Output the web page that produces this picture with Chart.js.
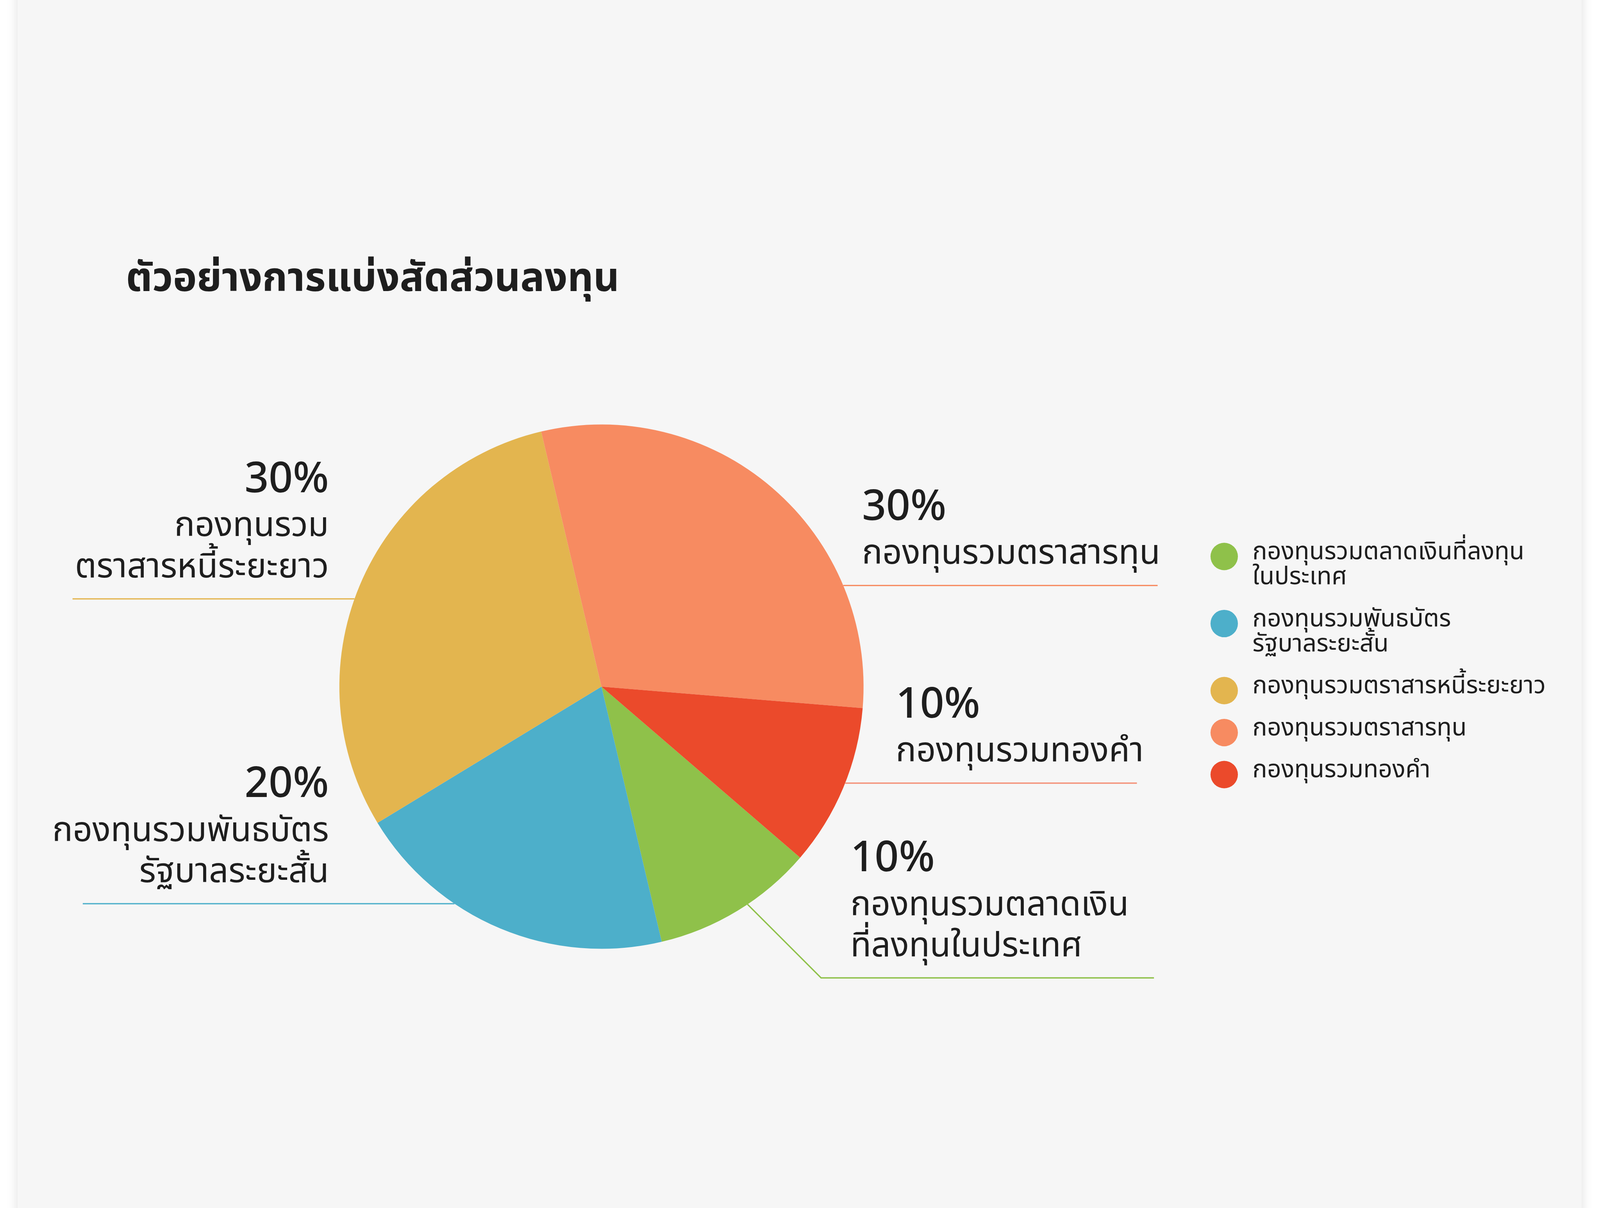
<!DOCTYPE html>
<html lang="th">
<head>
<meta charset="utf-8">
<title>ตัวอย่างการแบ่งสัดส่วนลงทุน</title>
<script src="https://cdn.jsdelivr.net/npm/chart.js@4.4.1/dist/chart.umd.min.js"></script>
<style>
  html, body { margin: 0; padding: 0; background: #ffffff; overflow: hidden; }
  .card {
    position: absolute; top: -60px; bottom: -60px;
    background: #f6f6f6;
    box-shadow: 0 0 28px rgba(0, 0, 0, 0.13);
  }
  #pie { position: absolute; left: 0; top: 0; }
</style>
</head>
<body>
<div class="card" id="card"></div>
<canvas id="pie"></canvas>
<script>
const chartTitle = 'ตัวอย่างการแบ่งสัดส่วนลงทุน';

// slices, clockwise from the green one
const categories = [
  'กองทุนรวมตลาดเงินที่ลงทุนในประเทศ',
  'กองทุนรวมพันธบัตรรัฐบาลระยะสั้น',
  'กองทุนรวมตราสารหนี้ระยะยาว',
  'กองทุนรวมตราสารทุน',
  'กองทุนรวมทองคำ'
];
const shares = [10, 20, 30, 30, 10];

// the same names, broken as in the picture
const legendLines = [
  ['กองทุนรวมตลาดเงินที่ลงทุน', 'ในประเทศ'],
  ['กองทุนรวมพันธบัตร', 'รัฐบาลระยะสั้น'],
  ['กองทุนรวมตราสารหนี้ระยะยาว'],
  ['กองทุนรวมตราสารทุน'],
  ['กองทุนรวมทองคำ']
];
const calloutLines = [
  ['กองทุนรวมตลาดเงิน', 'ที่ลงทุนในประเทศ'],
  ['กองทุนรวมพันธบัตร', 'รัฐบาลระยะสั้น'],
  ['กองทุนรวม', 'ตราสารหนี้ระยะยาว'],
  ['กองทุนรวมตราสารทุน'],
  ['กองทุนรวมทองคำ']
];

const sliceColors = ['#8fc14a', '#4dafca', '#e3b54f', '#f78b61', '#eb4a2b'];
const lineColors = ['#8fc14a', '#4dafca', '#e3b54f', '#f78b61', '#f4937a'];

const FONT = '"Noto Sans Thai", "Noto Sans", sans-serif';

// the slide is laid out on a 5488 x 3092 board, then fitted to the window
const BOARD_W = 5488, BOARD_H = 3092;
const W = window.innerWidth, H = window.innerHeight;
const s = Math.min(W / BOARD_W, H / BOARD_H);
const offX = (W - BOARD_W * s) / 2, offY = (H - BOARD_H * s) / 2;

// callout placement, in units of the pie radius from its centre
const calloutLayout = [
  { side: 'right', textDx: 0.950, lineDy: 1.111, endDx: 2.108, elbowDx: 0.838 },
  { side: 'left', textDx: -1.040, lineDy: 0.828, endDx: -1.979 },
  { side: 'left', textDx: -1.040, lineDy: -0.335, endDx: -2.018 },
  { side: 'right', textDx: 0.994, lineDy: -0.386, endDx: 2.122 },
  { side: 'right', textDx: 1.123, lineDy: 0.368, endDx: 2.043 }
];

const card = document.getElementById('card');
card.style.left = (offX + 60 * s) + 'px';
card.style.right = (offX + 63 * s) + 'px';

const canvas = document.getElementById('pie');
canvas.width = W;
canvas.height = H;
canvas.style.width = W + 'px';
canvas.style.height = H + 'px';

const decorPlugin = {
  id: 'decor',
  afterDraw(chart) {
    const ctx = chart.ctx;
    const arc = chart.getDatasetMeta(0).data[0];
    // back to board units
    const cx = (arc.x - offX) / s, cy = (arc.y - offY) / s, r = arc.outerRadius / s;
    const values = chart.data.datasets[0].data;
    const total = values.reduce((a, b) => a + b, 0);

    ctx.save();
    ctx.translate(offX, offY);
    ctx.scale(s, s);

    // title
    ctx.fillStyle = '#1e1e1e';
    ctx.textAlign = 'left';
    ctx.textBaseline = 'alphabetic';
    ctx.font = '700 138px ' + FONT;
    ctx.fillText(chartTitle, 432, 473);

    // callouts with leader lines
    calloutLayout.forEach((lay, i) => {
      const lineY = cy + lay.lineDy * r;
      const endX = cx + lay.endDx * r;
      ctx.strokeStyle = lineColors[i];
      ctx.lineWidth = 4.5;
      ctx.beginPath();
      if (lay.elbowDx !== undefined) {
        const ex = cx + lay.elbowDx * r;
        const a = ex - cx, b = lineY - cy;
        const t = ((a + b) - Math.sqrt((a + b) * (a + b) - 2 * (a * a + b * b - r * r))) / 2;
        ctx.moveTo(ex - t, lineY - t);
        ctx.lineTo(ex, lineY);
        ctx.lineTo(endX, lineY);
      } else {
        const half = Math.sqrt(Math.max(0, r * r - (lineY - cy) * (lineY - cy)));
        ctx.moveTo(cx + Math.sign(lay.endDx) * half, lineY);
        ctx.lineTo(endX, lineY);
      }
      ctx.stroke();

      const tx = cx + lay.textDx * r;
      ctx.textAlign = lay.side === 'left' ? 'right' : 'left';
      ctx.fillStyle = '#1e1e1e';
      const lines = calloutLines[i];
      let y = lineY - 74;
      ctx.font = '400 117px ' + FONT;
      for (let k = lines.length - 1; k >= 0; k--) {
        ctx.fillText(lines[k], tx, y);
        if (k > 0) y -= 141;
      }
      ctx.font = '500 145px ' + FONT;
      ctx.fillText(Math.round(values[i] / total * 100) + '%', tx, y - 151);
    });

    // legend
    let ly = 1375;
    chart.data.labels.forEach((name, i) => {
      ctx.fillStyle = sliceColors[i];
      ctx.beginPath();
      ctx.arc(4199, ly + 8, 47, 0, Math.PI * 2);
      ctx.fill();
      ctx.fillStyle = '#1e1e1e';
      ctx.textAlign = 'left';
      ctx.textBaseline = 'middle';
      ctx.font = '400 84px ' + FONT;
      legendLines[i].forEach((txt, k) => {
        ctx.fillText(txt, 4296, ly + k * 86);
      });
      ly += legendLines[i].length * 86 + 58;
    });

    ctx.restore();
  }
};

new Chart(canvas.getContext('2d'), {
  type: 'pie',
  data: {
    labels: categories,
    datasets: [{
      data: shares,
      backgroundColor: sliceColors,
      borderWidth: 0
    }]
  },
  options: {
    responsive: false,
    devicePixelRatio: 1,
    animation: false,
    rotation: 130.7,
    layout: {
      padding: {
        left: offX + 1164 * s,
        right: W - (offX + 2962 * s),
        top: offY + 930 * s,
        bottom: H - (offY + 2729 * s)
      }
    },
    plugins: {
      legend: { display: false },
      tooltip: { enabled: false },
      title: { display: false }
    }
  },
  plugins: [decorPlugin]
});
</script>
</body>
</html>
